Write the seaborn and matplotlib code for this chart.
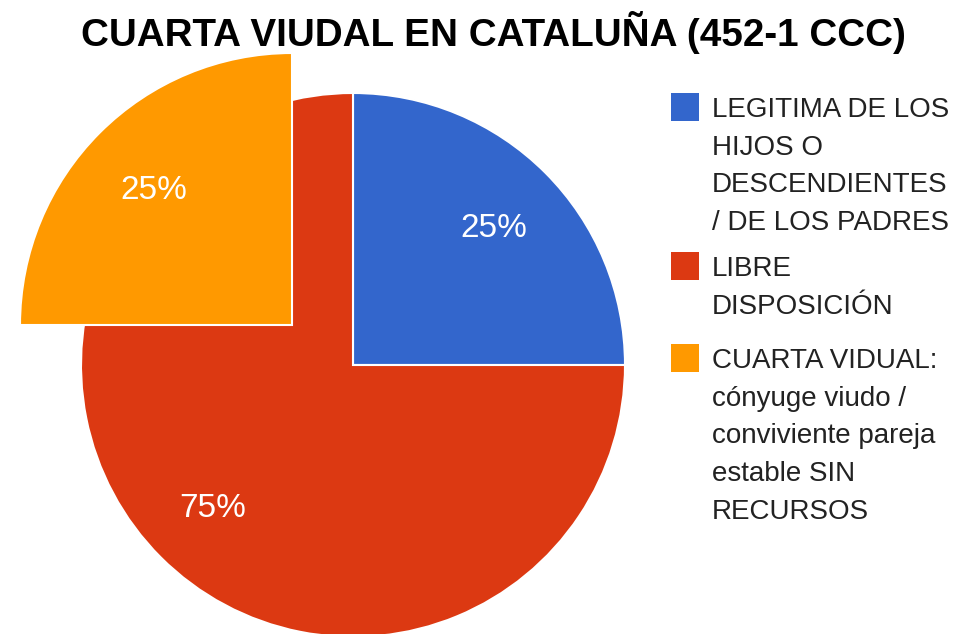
import matplotlib
matplotlib.use("Agg")
import matplotlib.pyplot as plt
from matplotlib.patches import Rectangle
import seaborn as sns

# ---- data ----
title = "CUARTA VIUDAL EN CATALUÑA (452-1 CCC)"
categories = [
    "LEGITIMA DE LOS\nHIJOS O\nDESCENDIENTES\n/ DE LOS PADRES",
    "LIBRE\nDISPOSICIÓN",
    "CUARTA VIDUAL:\ncónyuge viudo /\nconviviente pareja\nestable SIN\nRECURSOS",
]
values = [25, 75, 25]
colors = ["#3366CC", "#DC3912", "#FF9900"]

# ---- style ----
sns.set_theme(style="white")
plt.rcParams["font.family"] = ["Liberation Sans", "DejaVu Sans"]

W, H = 970, 634
fig = plt.figure(figsize=(W / 100, H / 100), dpi=100)
ax = fig.add_axes([0, 0, 1, 1])

R = 272
cx, cy = 353, H - 365
wp = dict(edgecolor="white", linewidth=1.5)
tp = dict(color="white", fontsize=24, va="center_baseline")

# main pie: legitima + libre disposición
w1, t1, a1 = ax.pie(values[:2], colors=colors[:2], startangle=90, counterclock=False,
                    radius=R, center=(cx, cy), autopct="%d%%", pctdistance=0.73,
                    wedgeprops=wp, textprops=tp, frame=True)

# cuarta vidual: exploded quarter drawn over the pie
ox, oy = 292, H - 325
w2, t2, a2 = ax.pie([values[2], 100 - values[2]], colors=[colors[2], "none"],
                    startangle=90, counterclock=True, radius=R, center=(ox, oy),
                    autopct="%d%%", pctdistance=0.72, wedgeprops=wp, textprops=tp,
                    frame=True)
w2[1].set_visible(False)
a2[1].set_visible(False)

ax.set_xlim(0, W)
ax.set_ylim(0, H)
ax.set_aspect("equal")
ax.axis("off")

fig.text(493.5 / W, 1 - 32 / H, title, ha="center", va="center",
         fontsize=27.8, fontweight="bold", color="#000000")

# legend (manual, to reproduce wrapped entries)
step = 37.7
starts = [117, 276, 368]
for lab, col, y0 in zip(categories, colors, starts):
    lines = lab.split("\n")
    ax.add_patch(Rectangle((671, H - (y0 - 10 + 14)), 28, 28, facecolor=col,
                           edgecolor="none", clip_on=False))
    for k, ln in enumerate(lines):
        ax.text(712, H - (y0 + k * step), ln, ha="left", va="baseline",
                fontsize=20, color="#222222")

fig.savefig("out.png", dpi=100)
